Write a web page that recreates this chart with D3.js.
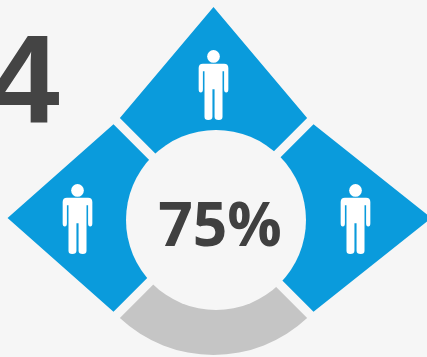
<!DOCTYPE html>
<html>
<head>
<meta charset="utf-8">
<script src="https://cdnjs.cloudflare.com/ajax/libs/d3/7.8.5/d3.min.js"></script>
<style>
html,body{margin:0;padding:0;background:#f6f6f6;overflow:hidden}
svg{display:block}
</style>
</head>
<body>
<svg id="chart" width="427" height="357"></svg>
<script>
// Each quarter of the dial stands for one person; three of four are counted.
const sectorNames = ["top", "right", "bottom", "left"];
const sectorShares = [25, 25, 25, 25];
const sectorCounted = [true, true, false, true];
const sectorReach = [1.0, 1.033, 0, 0.976];
const figureDistance = [134, 142, 0, 136];
const totalLabel = "75%";
const stepLabel = "4";

const svg = d3.select("#chart");
const width = 427, height = 357;
const cx = 213.5, cy = 218;
const innerR = 70, holeR = 90, rimR = 137, tipR = 211, gap = 9;
const blue = "#0a9bdc", grey = "#c5c5c5", ink = "#404040", paper = "#f6f6f6";

const pie = d3.pie().sort(null).startAngle(-Math.PI / 4).endAngle(Math.PI * 7 / 4);
const arcs = pie(sectorShares);
const radius = d3.scaleLinear().domain([0, 1]).range([0, tipR]);

const root = svg.append("g").attr("transform", `translate(${cx},${cy})`);

// Angular inset that keeps the gap between neighbours a constant width.
const inset = r => Math.asin(gap / 2 / r);

// A counted sector: inner arc, out to the rim, then straight edges to a tip.
function pointedSector(a, reach) {
  const mid = (a.startAngle + a.endAngle) / 2;
  const [x0, y0] = d3.pointRadial(a.startAngle + inset(rimR), rimR);
  const [x1, y1] = d3.pointRadial(mid, radius(reach));
  const [x2, y2] = d3.pointRadial(a.endAngle - inset(rimR), rimR);
  const [x3, y3] = d3.pointRadial(a.endAngle - inset(innerR), innerR);
  const p = d3.path();
  p.moveTo(x0, y0);
  p.lineTo(x1, y1);
  p.lineTo(x2, y2);
  p.lineTo(x3, y3);
  p.arc(0, 0, innerR, a.endAngle - inset(innerR) - Math.PI / 2,
        a.startAngle + inset(innerR) - Math.PI / 2, true);
  p.closePath();
  return p.toString();
}

const plainArc = d3.arc().innerRadius(innerR).outerRadius(rimR)
  .padAngle(gap / ((innerR + rimR) / 2)).padRadius((innerR + rimR) / 2);

root.selectAll("path.sector")
  .data(arcs)
  .join("path")
  .attr("class", (d, i) => "sector " + sectorNames[i])
  .attr("fill", (d, i) => sectorCounted[i] ? blue : grey)
  .attr("d", (d, i) => sectorCounted[i] ? pointedSector(d, sectorReach[i]) : plainArc(d));

// The central disc sits slightly off the point where the gaps cross.
root.append("circle")
  .attr("cx", 2.5).attr("cy", 2).attr("r", holeR)
  .attr("fill", paper);

// Figure of a person, drawn around its own centre.
function person(g) {
  g.append("circle").attr("cx", 0).attr("cy", -26).attr("r", 6).attr("fill", "#fff");
  g.append("path").attr("fill", "#fff").attr("d",
    "M-10,-19 H10 Q14,-19 14,-15 V5 Q14,8 12,8 Q10,8 10,5 V-12 H8.5 V31 Q8.5,34 5,34 " +
    "Q1,34 1,31 V5 H-1 V31 Q-1,34 -5,34 Q-8.5,34 -8.5,31 V-12 H-10 V5 Q-10,8 -12,8 " +
    "Q-14,8 -14,5 V-15 Q-14,-19 -10,-19 Z");
}

root.selectAll("g.person")
  .data(arcs.map((d, i) => ({ d, i })).filter(o => sectorCounted[o.i]))
  .join("g")
  .attr("class", "person")
  .attr("transform", o => {
    const [x, y] = d3.pointRadial((o.d.startAngle + o.d.endAngle) / 2, figureDistance[o.i]);
    return `translate(${x},${y}) scale(1.06)`;
  })
  .call(person);

root.append("text")
  .attr("x", 6.5).attr("y", 28)
  .attr("text-anchor", "middle")
  .attr("font-family", "'Open Sans', sans-serif")
  .attr("font-weight", 700)
  .attr("font-size", 60.5)
  .attr("fill", ink)
  .text(totalLabel);

svg.append("text")
  .attr("x", -11).attr("y", 123)
  .attr("font-family", "'Liberation Sans', Arial, sans-serif")
  .attr("font-weight", 700)
  .attr("font-size", 127)
  .attr("fill", "#444")
  .text(stepLabel);
</script>
</body>
</html>
